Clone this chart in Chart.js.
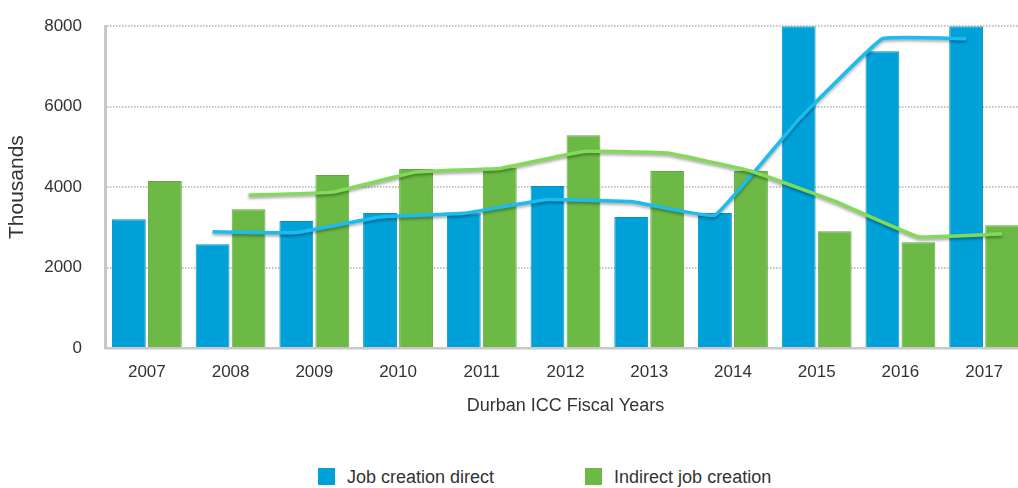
<!DOCTYPE html>
<html>
<head>
<meta charset="utf-8">
<script src="https://cdn.jsdelivr.net/npm/chart.js@4/dist/chart.umd.min.js"></script>
<style>
    html, body { margin: 0; padding: 0; background: #fff; overflow: hidden; width: 1018px; height: 488px; }
    #wrap { position: absolute; left: 0; top: -7px; }
    #legend { position: absolute; left: 318px; top: 467px; font-family: "Liberation Sans", Arial, sans-serif; font-size: 18px; color: #333; white-space: nowrap; }
    .item { display: inline-block; margin-right: 91px; }
    .box { display: inline-block; width: 17px; height: 17px; vertical-align: -2px; margin-right: 12px; }
</style>
</head>
<body>
<div id="wrap"><canvas id="chart" width="1040" height="427"></canvas></div>
<div id="legend"></div>
<script>
const years = ["2007", "2008", "2009", "2010", "2011", "2012", "2013", "2014", "2015", "2016", "2017"];
const directJobs = [3200, 2580, 3155, 3355, 3350, 4025, 3255, 3355, 8000, 7380, 8000];
const indirectJobs = [4150, 3450, 4300, 4450, 4480, 5290, 4400, 4400, 2900, 2630, 3050];
// trend lines as drawn (two-period moving average)
const directTrend = [null, 2890, 2870, 3255, 3350, 3690, 3640, 3300, 5680, 7690, 7690];
const indirectTrend = [null, 3800, 3875, 4375, 4465, 4885, 4845, 4400, 3650, 2765, 2840];
const yTicks = [0, 2000, 4000, 6000, 8000];

const seriesNames = ["Job creation direct", "Indirect job creation"];
const barColors = ["#00a1d9", "#6cb946"];
const lineColors = ["#1bbcf0", "#82db57"];

const FONT = '"Liberation Sans", Arial, sans-serif';
const barShift = 0.215; // trend points sit on the middle of their own bar

function barPoints(values) {
    return values.map((v, i) => ({ x: i, y: v }));
}

function trendPoints(values, shift) {
    return values.map((v, i) => ({ x: i + shift, y: v })).filter(p => p.y !== null);
}

// soft shadow under the trend lines
const lineShadow = {
    id: 'lineShadow',
    beforeDatasetDraw(chart, args) {
        if (args.meta.type === 'line') {
            chart.ctx.save();
            chart.ctx.shadowColor = 'rgba(0,0,0,0.35)';
            chart.ctx.shadowBlur = 3;
            chart.ctx.shadowOffsetY = 2;
        }
    },
    afterDatasetDraw(chart, args) {
        if (args.meta.type === 'line') chart.ctx.restore();
    }
};

new Chart(document.getElementById('chart').getContext('2d'), {
    type: 'bar',
    data: {
        datasets: [
            {
                label: seriesNames[1] + ' trend', type: 'line',
                data: trendPoints(indirectTrend, barShift),
                borderColor: lineColors[1], borderWidth: 3.5, pointRadius: 0, tension: 0.08, order: 0
            },
            {
                label: seriesNames[0] + ' trend', type: 'line',
                data: trendPoints(directTrend, -barShift),
                borderColor: lineColors[0], borderWidth: 3.5, pointRadius: 0, tension: 0.08, order: 0
            },
            {
                label: seriesNames[0], data: barPoints(directJobs), backgroundColor: barColors[0],
                borderColor: '#0592c2', borderWidth: 1,
                categoryPercentage: 0.86, barPercentage: 0.94, order: 1
            },
            {
                label: seriesNames[1], data: barPoints(indirectJobs), backgroundColor: barColors[1],
                borderColor: '#62a83f', borderWidth: 1,
                categoryPercentage: 0.86, barPercentage: 0.94, order: 1
            }
        ]
    },
    options: {
        responsive: false,
        animation: false,
        layout: { padding: { top: 19, right: 14, left: 0, bottom: 0 } },
        plugins: { legend: { display: false }, tooltip: { enabled: false } },
        scales: {
            x: {
                type: 'linear', min: -0.5, max: 10.5, offset: false,
                afterBuildTicks(scale) { scale.ticks = years.map((y, i) => ({ value: i })); },
                grid: { display: false, drawTicks: false, offset: false },
                border: { color: '#c8c8c8', width: 2.5 },
                ticks: {
                    color: '#333', font: { family: FONT, size: 17 }, padding: 14,
                    autoSkip: false, maxRotation: 0,
                    callback: v => years[v]
                },
                title: { display: true, text: 'Durban ICC Fiscal Years', color: '#333',
                         font: { family: FONT, size: 18 }, padding: { top: 14, bottom: 3 } },
                afterFit(scale) { scale.height = 72; }
            },
            y: {
                min: 0, max: 8000,
                afterBuildTicks(scale) { scale.ticks = yTicks.map(v => ({ value: v })); },
                grid: { color: '#c4c4c4', drawTicks: false, lineWidth: 2, borderDash: [1.5, 1.5] },
                border: { color: '#c8c8c8', width: 3, dash: [1.5, 1.5] },
                ticks: { color: '#333', font: { family: FONT, size: 17 }, padding: 23,
                         callback: v => String(v) },
                title: { display: true, text: 'Thousands', color: '#333',
                         font: { family: FONT, size: 21 }, padding: { top: 5, bottom: 0 } },
                afterFit(scale) { scale.width = 105; }
            }
        }
    },
    plugins: [lineShadow]
});

// legend below the chart
const legend = document.getElementById('legend');
seriesNames.forEach((name, i) => {
    const item = document.createElement('span');
    item.className = 'item';
    const box = document.createElement('span');
    box.className = 'box';
    box.style.background = barColors[i];
    item.appendChild(box);
    item.appendChild(document.createTextNode(name));
    legend.appendChild(item);
});
</script>
</body>
</html>
